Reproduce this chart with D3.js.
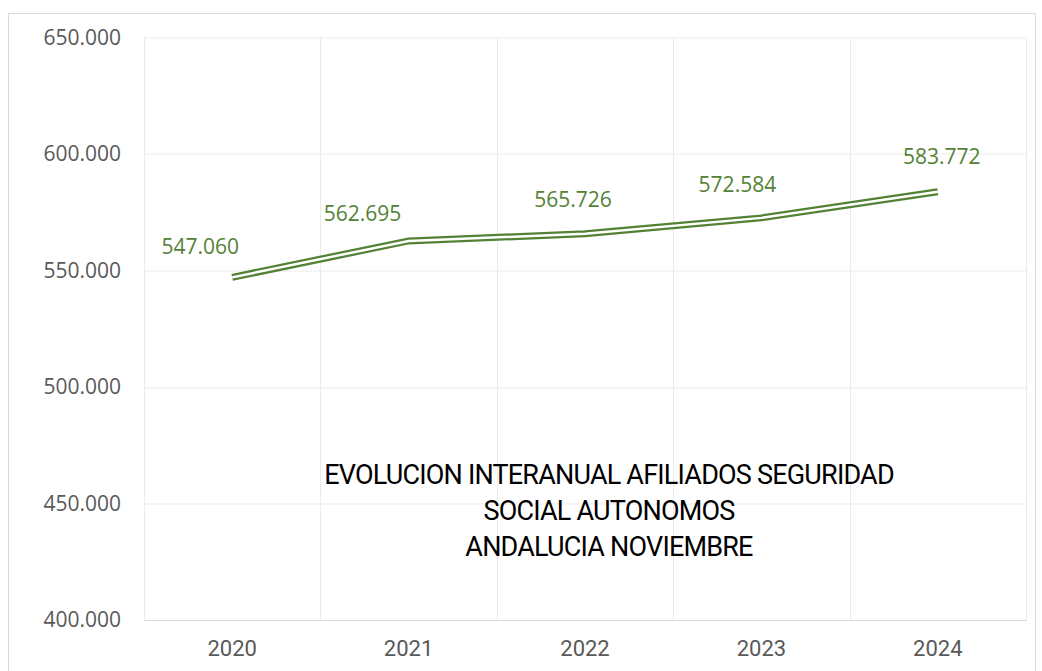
<!DOCTYPE html>
<html>
<head>
<meta charset="utf-8">
<script src="https://cdn.jsdelivr.net/npm/d3@7"></script>
<style>
  body { margin: 0; background: #fff; }
  svg { display: block; }
</style>
</head>
<body>
<svg id="chart" width="1042" height="671"></svg>
<script>
// data
const years = ['2020', '2021', '2022', '2023', '2024']
const afiliados = [547060, 562695, 565726, 572584, 583772]
const yTicks = [400000, 450000, 500000, 550000, 600000, 650000]
const titleLines = ['EVOLUCION INTERANUAL AFILIADOS SEGURIDAD', 'SOCIAL AUTONOMOS', 'ANDALUCIA NOVIEMBRE']

// label nudges (px), the labels were hand placed in the original
const labelDx = [-32, -46, -12, -24, 4]
const labelDy = [-31, -28, -35, -34, -36]

const green = '#548235'
const margin = { top: 37.5, right: 16, bottom: 51, left: 144 }
const W = 1042, H = 671
const w = W - margin.left - margin.right
const h = H - margin.top - margin.bottom

const svg = d3.select('#chart')

// outer frame
svg.append('rect')
  .attr('x', 8.5).attr('y', 13.5)
  .attr('width', 1027).attr('height', 680)
  .attr('fill', 'none')
  .attr('stroke', '#d9d9d9')

const g = svg.append('g')
  .attr('transform', `translate(${margin.left},${margin.top})`)

const x = d3.scaleBand().domain(years).range([0, w])
const y = d3.scaleLinear().domain([400000, 650000]).range([h, 0])

const fmt = d => d3.format(',')(d).replace(/,/g, '.')

// horizontal grid
g.selectAll('.hgrid')
  .data(yTicks.slice(1))
  .enter().append('line')
  .attr('x1', 0).attr('x2', w)
  .attr('y1', d => Math.round(y(d)) + 0.5)
  .attr('y2', d => Math.round(y(d)) + 0.5)
  .attr('stroke', '#ebebeb')

// vertical grid at band edges
const edges = years.map(d => x(d)).concat([w])
g.selectAll('.vgrid')
  .data(edges)
  .enter().append('line')
  .attr('x1', d => Math.round(d) + 0.5).attr('x2', d => Math.round(d) + 0.5)
  .attr('y1', 0).attr('y2', h)
  .attr('stroke', '#ebebeb')

// Y axis labels
g.append('g')
  .call(d3.axisLeft(y).tickValues(yTicks).tickFormat(fmt).tickSize(0).tickPadding(23))
  .call(a => a.select('.domain').remove())
  .selectAll('text')
  .attr('fill', '#595959')
  .style('font-family', 'Open Sans, Noto Sans, sans-serif')
  .style('font-size', '21px')

// X axis
g.append('g')
  .attr('transform', `translate(0,${h})`)
  .call(d3.axisBottom(x).tickSize(0).tickPadding(20))
  .call(a => a.select('.domain').attr('stroke', '#d9d9d9'))
  .selectAll('text')
  .attr('fill', '#595959')
  .style('font-family', 'Liberation Sans Narrow, Roboto, sans-serif')
  .style('font-size', '22px')

// double line: thick green with a white core
const line = d3.line()
  .x((d, i) => x(years[i]) + x.bandwidth() / 2)
  .y(d => y(d))

g.append('path')
  .datum(afiliados)
  .attr('d', line)
  .attr('fill', 'none')
  .attr('stroke', green)
  .attr('stroke-width', 7)

g.append('path')
  .datum(afiliados)
  .attr('d', line)
  .attr('fill', 'none')
  .attr('stroke', '#fff')
  .attr('stroke-width', 2.5)

// data labels
g.selectAll('.lbl')
  .data(afiliados)
  .enter().append('text')
  .attr('x', (d, i) => x(years[i]) + x.bandwidth() / 2 + labelDx[i])
  .attr('y', (d, i) => y(d) + labelDy[i])
  .attr('text-anchor', 'middle')
  .attr('dominant-baseline', 'central')
  .attr('fill', green)
  .style('font-family', 'Open Sans, Noto Sans, sans-serif')
  .style('font-size', '21px')
  .text(fmt)

// title inside the plot
svg.append('g')
  .selectAll('text')
  .data(titleLines)
  .enter().append('text')
  .attr('x', 609)
  .attr('y', (d, i) => 484 + i * 36)
  .attr('text-anchor', 'middle')
  .attr('fill', '#000')
  .style('font-family', 'Liberation Sans Narrow, Roboto, sans-serif')
  .style('font-size', '27px')
  .style('letter-spacing', '-0.8px')
  .text(d => d)
</script>
</body>
</html>
